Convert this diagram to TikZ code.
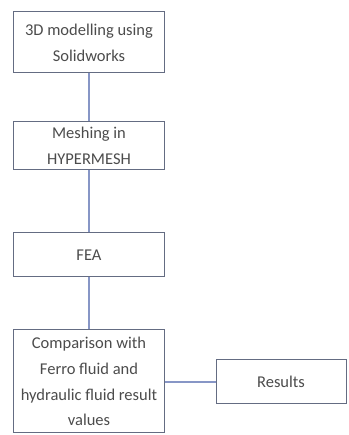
\documentclass[tikz,border=0pt]{standalone}
\usepackage{fontspec}
\setmainfont{Carlito}
\definecolor{edge}{RGB}{100,108,130}
\definecolor{conn}{RGB}{135,150,198}
\begin{document}
\begin{tikzpicture}[x=1pt,y=1pt,
  stepbox/.style={draw=edge,line width=1pt,fill=white,inner sep=0pt,align=center,
     font=\fontsize{16.5}{25.7}\selectfont,text=black!70},
  link/.style={draw=conn,line width=1.6pt}]
\useasboundingbox (0,0) rectangle (348,435);
\node[stepbox,minimum width=151,minimum height=61] (a) at (89,392.5) {3D modelling using\\Solidworks};
\node[stepbox,minimum width=151,minimum height=48] (b) at (89,289) {Meshing in\\HYPERMESH};
\node[stepbox,minimum width=151,minimum height=44] (c) at (89,180) {FEA};
\node[stepbox,minimum width=151,minimum height=103] (d) at (89,53.5) {Comparison with\\Ferro fluid and\\hydraulic fluid result\\values};
\node[stepbox,minimum width=130,minimum height=44] (e) at (281,53) {Results};
\draw[link] (a) -- (b);
\draw[link] (b) -- (c);
\draw[link] (c) -- (d);
\draw[link] (d.east |- e.west) -- (e.west);
\end{tikzpicture}
\end{document}
